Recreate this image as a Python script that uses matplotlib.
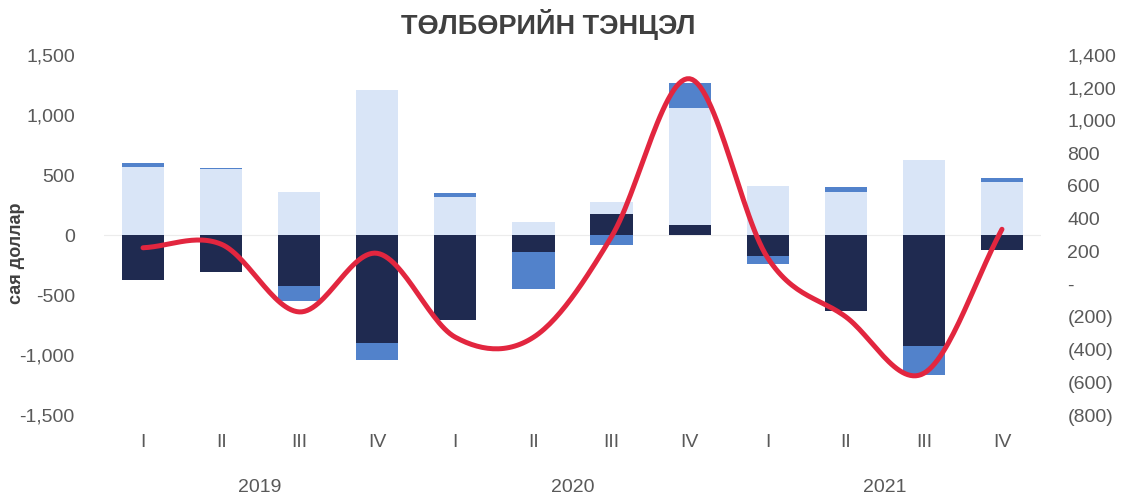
import numpy as np
import matplotlib
matplotlib.use('Agg')
import matplotlib.pyplot as plt
from matplotlib.ticker import FuncFormatter, FixedLocator
import matplotlib.transforms as mtransforms

plt.rcParams['font.family'] = ['Liberation Sans', 'DejaVu Sans']

# quarters 2019 Q1 .. 2021 Q4
quarters = ['I', 'II', 'III', 'IV'] * 3
years = ['2019', '2020', '2021']

# stacked components (left axis, сая доллар)
dark = [-375, -311, -428, -900, -706, -139, 175, 86, -178, -631, -928, -125]
light = [569, 550, 356, 1210, 314, 106, 103, 972, 406, 361, 625, 439]
medium = [28, 5, -125, -139, 33, -311, -81, 209, -64, 36, -236, 33]

# balance line (right axis)
balance = [222, 244, -170, 188, -325, -325, 290, 1255, 160, -200, -545, 335]

c_dark = '#1f2a50'
c_light = '#d9e5f7'
c_medium = '#5282cb'
c_red = '#e2263f'
c_text = '#595959'


def smooth(xs, ys, n=30):
    # Catmull-Rom curve through the points, like a smoothed line in Excel
    xs = np.asarray(xs, float)
    ys = np.asarray(ys, float)
    px = np.concatenate([[2 * xs[0] - xs[1]], xs, [2 * xs[-1] - xs[-2]]])
    py = np.concatenate([[2 * ys[0] - ys[1]], ys, [2 * ys[-1] - ys[-2]]])
    out_x, out_y = [], []
    t = np.linspace(0, 1, n)
    for i in range(1, len(px) - 2):
        for arr, out in ((px, out_x), (py, out_y)):
            p0, p1, p2, p3 = arr[i - 1], arr[i], arr[i + 1], arr[i + 2]
            seg = 0.5 * ((2 * p1) + (-p0 + p2) * t
                         + (2 * p0 - 5 * p1 + 4 * p2 - p3) * t ** 2
                         + (-p0 + 3 * p1 - 3 * p2 + p3) * t ** 3)
            out.extend(seg)
    return np.array(out_x), np.array(out_y)


fig = plt.figure(figsize=(11.26, 5.03), dpi=100)
ax = fig.add_axes([104 / 1126, 1 - 415 / 503, 937 / 1126, 360 / 503])
x = np.arange(len(quarters))
width = 0.54

pos_bottom = np.zeros(len(x))
neg_bottom = np.zeros(len(x))
for vals, col in ((dark, c_dark), (light, c_light), (medium, c_medium)):
    vals = np.asarray(vals, float)
    bottom = np.where(vals >= 0, pos_bottom, neg_bottom)
    ax.bar(x, vals, width, bottom=bottom, color=col, zorder=2)
    pos_bottom = pos_bottom + np.clip(vals, 0, None)
    neg_bottom = neg_bottom + np.clip(vals, None, 0)

ax.axhline(0, color='#ececec', lw=0.8, zorder=1)
ax.set_xlim(-0.5, len(x) - 0.5)
ax.set_ylim(-1500, 1500)
ax.yaxis.set_major_locator(FixedLocator(np.arange(-1500, 1501, 500)))
ax.yaxis.set_major_formatter(FuncFormatter(lambda v, p: f'{v:,.0f}'))
ax.set_xticks(x)
ax.set_xticklabels(quarters)
ax.tick_params(axis='x', length=0, pad=14, labelsize=14, labelcolor=c_text)
ax.tick_params(axis='y', length=0, pad=21, labelsize=14, labelcolor=c_text)
for s in ax.spines.values():
    s.set_visible(False)

ax.set_ylabel('сая доллар', fontsize=13, fontweight='bold', color='#404040')
ax.yaxis.set_label_coords(-0.084, 0.45)

trans = mtransforms.blended_transform_factory(ax.transData, ax.transAxes)
for i, yr in enumerate(years):
    ax.text(4 * i + 1.5, -0.2, yr, transform=trans, ha='center', va='center',
            fontsize=14, color=c_text)

ax2 = ax.twinx()
sx, sy = smooth(x, balance)
ax2.plot(sx, sy, color=c_red, lw=3.6, solid_capstyle='round', zorder=3)
ax2.set_ylim(-800, 1400)
ax2.yaxis.set_major_locator(FixedLocator(np.arange(-800, 1401, 200)))


def paren(v, p):
    if abs(v) < 1e-9:
        return '-'
    if v < 0:
        return f'({-v:,.0f})'
    return f'{v:,.0f}'


ax2.yaxis.set_major_formatter(FuncFormatter(paren))
ax2.tick_params(axis='y', length=0, pad=19, labelsize=14, labelcolor=c_text)
for s in ax2.spines.values():
    s.set_visible(False)

fig.text(548 / 1126, 1 - 25 / 503, 'ТӨЛБӨРИЙН ТЭНЦЭЛ', ha='center', va='center',
         fontsize=19.5, fontweight='bold', color='#404040')

fig.savefig('out.png', dpi=100, facecolor='white')
